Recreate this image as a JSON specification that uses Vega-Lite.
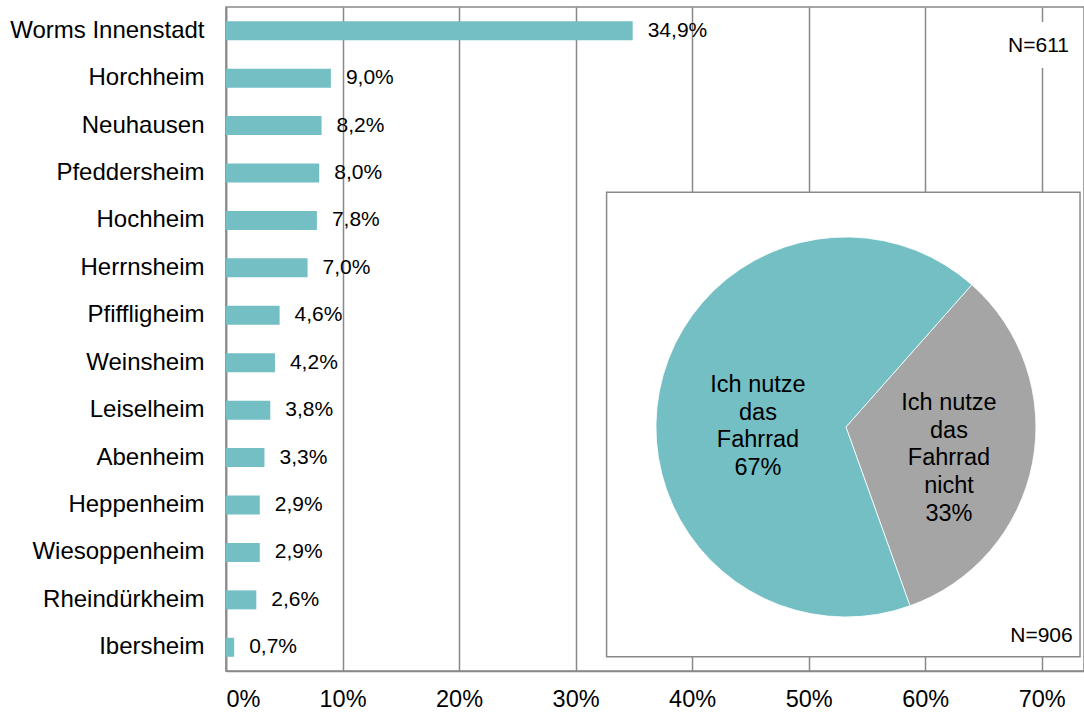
{
  "$schema": "https://vega.github.io/schema/vega-lite/v6.json",
  "width": 858,
  "height": 664,
  "autosize": {"type": "none"},
  "padding": {"left": 226, "top": 7, "right": 0, "bottom": 41},
  "background": "white",
  "config": {
    "locale": {"number": {"decimal": ",", "thousands": ".", "grouping": [3], "currency": ["", " €"]}},
    "font": "Liberation Sans",
    "view": {"stroke": "#898989", "strokeWidth": 1.5}
  },
  "datasets": {
    "bars": [
      {"ortsteil": "Worms Innenstadt", "anteil": 0.349},
      {"ortsteil": "Horchheim", "anteil": 0.090},
      {"ortsteil": "Neuhausen", "anteil": 0.082},
      {"ortsteil": "Pfeddersheim", "anteil": 0.080},
      {"ortsteil": "Hochheim", "anteil": 0.078},
      {"ortsteil": "Herrnsheim", "anteil": 0.070},
      {"ortsteil": "Pfiffligheim", "anteil": 0.046},
      {"ortsteil": "Weinsheim", "anteil": 0.042},
      {"ortsteil": "Leiselheim", "anteil": 0.038},
      {"ortsteil": "Abenheim", "anteil": 0.033},
      {"ortsteil": "Heppenheim", "anteil": 0.029},
      {"ortsteil": "Wiesoppenheim", "anteil": 0.029},
      {"ortsteil": "Rheindürkheim", "anteil": 0.026},
      {"ortsteil": "Ibersheim", "anteil": 0.007}
    ],
    "box": [
      {"x1": 0.3266, "x2": 0.7329, "y1": 0.0215, "y2": 0.721}
    ],
    "pie": [
      {"kat": "Ich nutze das Fahrrad nicht", "anteil": 33, "cx": 0.532, "cy": 0.3675, "lx": 0.6204, "ly": 0.4032, "text": "Ich nutze\ndas\nFahrrad\nnicht\n33%"},
      {"kat": "Ich nutze das Fahrrad", "anteil": 67, "cx": 0.532, "cy": 0.3675, "lx": 0.4565, "ly": 0.4307, "text": "Ich nutze\ndas\nFahrrad\n67%"}
    ],
    "mask": [
      {"x1": 0.6676, "x2": 0.7277, "y1": 0.9081, "y2": 0.9774}
    ],
    "notes": [
      {"text": "N=611", "nx": 0.7234, "ny": 0.9417},
      {"text": "N=906", "nx": 0.7266, "ny": 0.053}
    ]
  },
  "layer": [
    {
      "layer": [
        {
          "data": {"name": "bars"},
          "mark": {"type": "bar", "color": "#73bfc4"},
          "encoding": {
            "y": {
              "field": "ortsteil", "type": "nominal", "sort": null,
              "scale": {"paddingInner": 0.6, "paddingOuter": 0.3},
              "axis": {"title": null, "ticks": false, "labelFontSize": 24, "labelColor": "#000000", "labelPadding": 22, "labelLimit": 400, "domainColor": "#898989", "domainWidth": 1.5, "grid": false}
            },
            "x": {
              "field": "anteil", "type": "quantitative",
              "scale": {"domain": [0, 0.7363], "nice": false, "zero": true},
              "axis": {"title": null, "values": [0, 0.1, 0.2, 0.3, 0.4, 0.5, 0.6, 0.7], "format": ".0%", "grid": true, "gridColor": "#898989", "gridWidth": 1.5, "ticks": false, "domainColor": "#898989", "domainWidth": 1.5, "labelFontSize": 23.5, "labelColor": "#000000", "labelPadding": 16}
            }
          }
        },
        {
          "data": {"name": "bars"},
          "mark": {"type": "text", "align": "left", "baseline": "middle", "dx": 15, "fontSize": 21, "color": "#000000"},
          "encoding": {
            "y": {"field": "ortsteil", "type": "nominal", "sort": null},
            "x": {"field": "anteil", "type": "quantitative", "title": null, "scale": {"domain": [0, 0.7363], "nice": false}},
            "text": {"field": "anteil", "type": "quantitative", "format": ".1%"}
          }
        }
      ]
    },
    {
      "layer": [
        {
          "data": {"name": "box"},
          "mark": {"type": "rect", "fill": "white", "stroke": "#898989", "strokeWidth": 1.5},
          "encoding": {
            "x": {"field": "x1", "type": "quantitative", "title": null, "scale": {"domain": [0, 0.7363], "nice": false}},
            "x2": {"field": "x2"},
            "y": {"field": "y1", "type": "quantitative", "scale": {"domain": [0, 1], "nice": false}, "axis": null},
            "y2": {"field": "y2"}
          }
        },
        {
          "data": {"name": "mask"},
          "mark": {"type": "rect", "fill": "white", "strokeWidth": 0},
          "encoding": {
            "x": {"field": "x1", "type": "quantitative", "title": null, "scale": {"domain": [0, 0.7363], "nice": false}},
            "x2": {"field": "x2"},
            "y": {"field": "y1", "type": "quantitative", "scale": {"domain": [0, 1], "nice": false}, "axis": null},
            "y2": {"field": "y2"}
          }
        },
        {
          "data": {"name": "pie"},
          "mark": {"type": "arc", "outerRadius": 190, "stroke": "white", "strokeWidth": 0.8},
          "encoding": {
            "x": {"field": "cx", "type": "quantitative", "title": null, "scale": {"domain": [0, 0.7363], "nice": false}},
            "y": {"field": "cy", "type": "quantitative", "scale": {"domain": [0, 1], "nice": false}, "axis": null},
            "theta": {"field": "anteil", "type": "quantitative", "stack": true, "scale": {"range": [0.7243, 7.0075]}},
            "order": {"field": "anteil", "sort": "ascending"},
            "color": {"field": "kat", "type": "nominal", "scale": {"domain": ["Ich nutze das Fahrrad", "Ich nutze das Fahrrad nicht"], "range": ["#73bfc4", "#a5a5a5"]}, "legend": null}
          }
        },
        {
          "data": {"name": "pie"},
          "mark": {"type": "text", "align": "center", "baseline": "middle", "fontSize": 23.5, "lineBreak": "\n", "lineHeight": 27.6, "color": "#000000"},
          "encoding": {
            "x": {"field": "lx", "type": "quantitative", "title": null, "scale": {"domain": [0, 0.7363], "nice": false}},
            "y": {"field": "ly", "type": "quantitative", "scale": {"domain": [0, 1], "nice": false}, "axis": null},
            "text": {"field": "text", "type": "nominal"}
          }
        },
        {
          "data": {"name": "notes"},
          "mark": {"type": "text", "align": "right", "baseline": "middle", "fontSize": 21, "color": "#000000"},
          "encoding": {
            "x": {"field": "nx", "type": "quantitative", "title": null, "scale": {"domain": [0, 0.7363], "nice": false}},
            "y": {"field": "ny", "type": "quantitative", "scale": {"domain": [0, 1], "nice": false}, "axis": null},
            "text": {"field": "text", "type": "nominal"}
          }
        }
      ]
    }
  ],
  "resolve": {"scale": {"y": "independent"}, "axis": {"y": "independent"}}
}
